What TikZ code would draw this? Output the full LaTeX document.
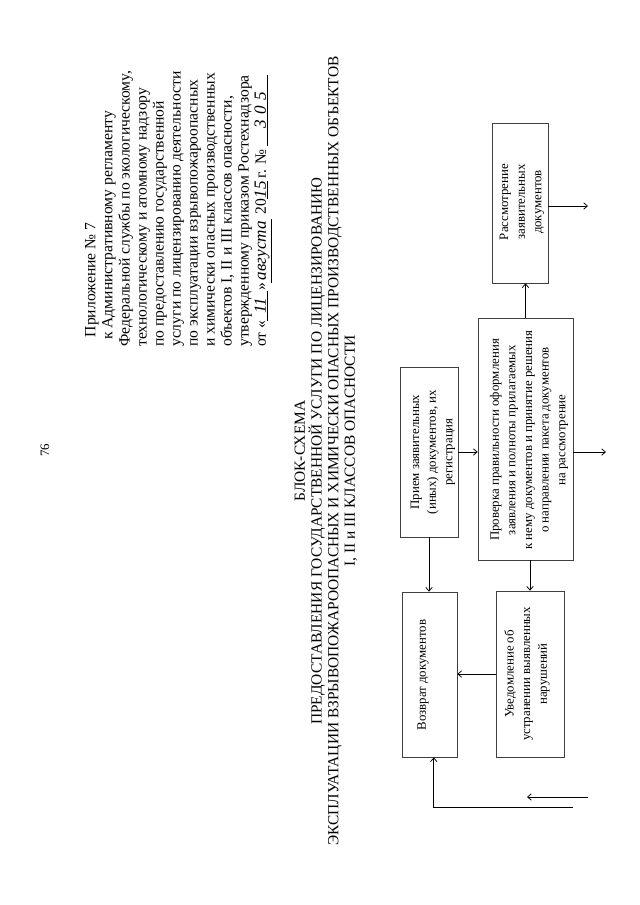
\documentclass[tikz,border=0pt]{standalone}
\usepackage{fontspec}
\setmainfont{Liberation Serif}
\usetikzlibrary{arrows.meta}
\def\upx{0.3281mm}
\newcommand\hwblank[2]{\underline{\makebox[#1]{\fontsize{16}{16}\selectfont\textit{#2}}}}
\begin{document}
\begin{tikzpicture}[x=0.3281mm,y=-0.3281mm,
  box/.style={draw=black!75, line width=0.6pt, inner sep=0pt},
  arr/.style={draw, line width=0.7pt, -{Straight Barb[length=3.5pt,width=6pt]}},
  btext/.style={rotate=90, align=center, font=\fontsize{12}{15.5}\selectfont, inner sep=0pt}]
\useasboundingbox (0,0) rectangle (640,905);

% page number
\node[rotate=90, font=\fontsize{12}{14}\selectfont, inner sep=0pt] (pg) at (45,450) {76};

% header
\node[rotate=90, anchor=north west, align=left, inner sep=0pt,
      font=\fontsize{14.6}{15.9}\selectfont] (hdr) at (85,347) {%
\hspace*{9pt}Приложение № 7\\
\hspace*{6.5pt}к Административному регламенту\\
Федеральной службы по экологическому,\\
технологическому и атомному надзору\\
по предоставлению государственной\\
услуги по лицензированию деятельности\\
по эксплуатации взрывопожароопасных\\
и химически опасных производственных\\
объектов I, II и III классов опасности,\\
утвержденному приказом Ростехнадзора\\
от «\hwblank{28pt}{11}»\hwblank{60pt}{августа}\ 20\hwblank{17pt}{15}\,г. № \hwblank{66pt}{3\,\,0\,\,5}};

% title
\node[rotate=90, align=center, inner sep=0pt,
      font=\fontsize{14.4}{15.6}\selectfont] (title) at (326,451) {%
БЛОК-СХЕМА\\
ПРЕДОСТАВЛЕНИЯ ГОСУДАРСТВЕННОЙ УСЛУГИ ПО ЛИЦЕНЗИРОВАНИЮ\\
ЭКСПЛУАТАЦИИ ВЗРЫВОПОЖАРООПАСНЫХ И ХИМИЧЕСКИ ОПАСНЫХ ПРОИЗВОДСТВЕННЫХ ОБЪЕКТОВ\\
I, II и III КЛАССОВ ОПАСНОСТИ};

% boxes
\node[box, minimum width=58*\upx, minimum height=170*\upx] (priem) at (429,452) {};
\node[box, minimum width=95*\upx, minimum height=242*\upx] (prov) at (525.5,439) {};
\node[box, minimum width=56*\upx, minimum height=160*\upx] (rass) at (520,203) {};
\node[box, minimum width=55*\upx, minimum height=165*\upx] (vozv) at (429.5,674.5) {};
\node[box, minimum width=68*\upx, minimum height=166*\upx] (uved) at (530,674) {};

% box texts
\node[btext] (tpriem) at (433,452) {Прием заявительных\\(иных) документов, их\\регистрация};
\node[btext] (tprov) at (529,440) {Проверка правильности оформления\\заявления и полноты прилагаемых\\к нему документов и принятие решения\\о направлении пакета документов\\на рассмотрение};
\node[btext] (trass) at (522,202) {Рассмотрение\\заявительных\\документов};
\node[btext] (tvozv) at (423,675) {Возврат документов};
\node[btext] (tuved) at (527,674) {Уведомление об\\устранении выявленных\\нарушений};

% free ends
\coordinate (o1) at (606,452);
\coordinate (o2) at (588,206);
\coordinate (i1) at (573,807);
\coordinate (i2s) at (588,797);
\coordinate (i2e) at (527,797);

% connectors
\draw[arr] (priem.east) -- (priem.east -| prov.west);
\draw[arr] (prov.east |- o1) -- (o1);
\draw[arr] (rass.east |- o2) -- (o2);
\draw[arr] (prov.north) -- (prov.north |- rass.south);
\draw[arr] (priem.south) -- (priem.south |- vozv.north);
\draw[arr] (uved.north |- prov.south) -- (uved.north);
\draw[arr] (uved.west) -- (uved.west -| vozv.east);
\draw[arr] (i1) -| ([xshift=1.4mm]vozv.south);
\draw[arr] (i2s) -- (i2e);
\end{tikzpicture}
\end{document}
